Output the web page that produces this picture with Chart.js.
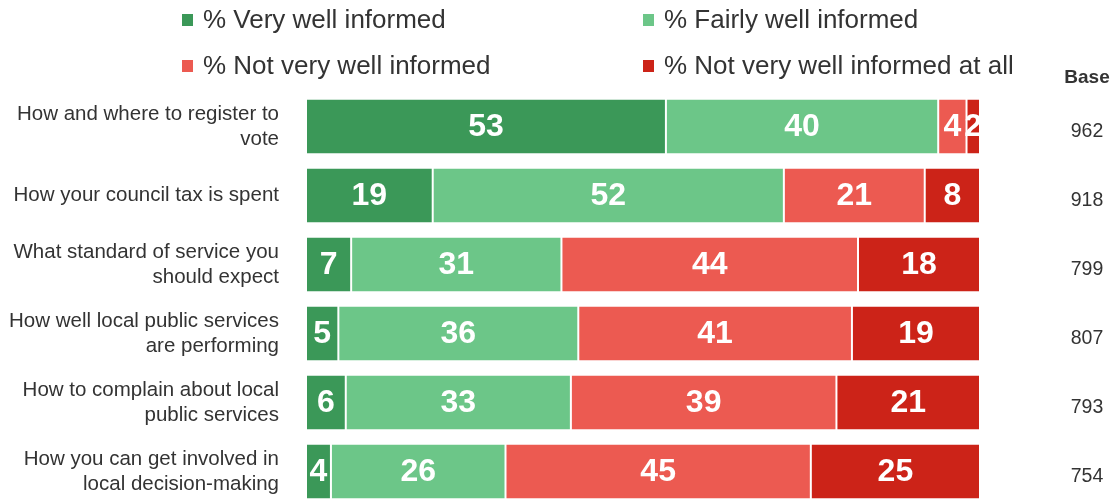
<!DOCTYPE html>
<html>
<head>
<meta charset="utf-8">
<script src="https://cdn.jsdelivr.net/npm/chart.js@4.4.1/dist/chart.umd.min.js"></script>
<style>
  html, body { margin: 0; padding: 0; background: #fff; overflow: hidden; }
  canvas { display: block; }
</style>
</head>
<body>
<canvas id="chart" width="1115" height="506"></canvas>
<script>
const categories = [
    ["How and where to register to", "vote"],
    "How your council tax is spent",
    ["What standard of service you", "should expect"],
    ["How well local public services", "are performing"],
    ["How to complain about local", "public services"],
    ["How you can get involved in", "local decision-making"]
];
const seriesNames = ["% Very well informed", "% Fairly well informed", "% Not very well informed", "% Not very well informed at all"];
const veryWell = [53.4, 18.8, 6.7, 4.8, 5.9, 3.7];
const fairlyWell = [40.4, 52.1, 31.2, 35.6, 33.4, 25.9];
const notVeryWell = [4.2, 20.9, 44.0, 40.6, 39.4, 45.3];
const notAtAll = [2.0, 8.2, 18.1, 19.0, 21.3, 25.1];
const bases = [962, 918, 799, 807, 793, 754];

const colors = ["#3b9858", "#6cc688", "#ec5a51", "#cc2318"];
const textColor = "#333333";

// value labels inside each segment
const valueLabels = {
    id: "valueLabels",
    afterDatasetsDraw(chart) {
        const ctx = chart.ctx;
        ctx.save();
        ctx.fillStyle = "#ffffff";
        ctx.font = "bold 32px 'Liberation Sans', Arial, sans-serif";
        ctx.textAlign = "center";
        ctx.textBaseline = "middle";
        chart.data.datasets.forEach((ds, i) => {
            const meta = chart.getDatasetMeta(i);
            meta.data.forEach((bar, j) => {
                const x = (bar.x + bar.base) / 2;
                ctx.fillText(String(Math.round(ds.data[j])), x, bar.y + 1);
            });
        });
        ctx.restore();
    }
};

// legend in a fixed 2 x 2 grid plus the Base column
const extras = {
    id: "extras",
    afterDraw(chart) {
        const ctx = chart.ctx;
        ctx.save();
        const cols = [182, 643];
        const rows = [21, 67];
        ctx.font = "26px 'Liberation Sans', Arial, sans-serif";
        ctx.textBaseline = "middle";
        ctx.textAlign = "left";
        chart.data.datasets.forEach((ds, i) => {
            const x = cols[i % 2];
            const y = rows[Math.floor(i / 2)];
            ctx.fillStyle = ds.backgroundColor;
            ctx.fillRect(x, y - 7, 11, 12);
            ctx.fillStyle = textColor;
            ctx.fillText(ds.label, x + 21, y);
        });

        const yScale = chart.scales.y;
        ctx.textAlign = "center";
        ctx.fillStyle = textColor;
        ctx.font = "bold 19px 'Liberation Sans', Arial, sans-serif";
        ctx.fillText("Base", 1087, 78);
        ctx.font = "19.5px 'Liberation Sans', Arial, sans-serif";
        bases.forEach((b, i) => {
            ctx.fillText(String(b), 1087, yScale.getPixelForValue(i) + 5);
        });
        ctx.restore();
    }
};

const seriesData = [veryWell, fairlyWell, notVeryWell, notAtAll];

new Chart(document.getElementById("chart"), {
    type: "bar",
    data: {
        labels: categories,
        datasets: seriesData.map((d, i) => ({
            label: seriesNames[i],
            data: d,
            backgroundColor: colors[i],
            borderColor: "#ffffff",
            borderWidth: { left: 1, right: 1, top: 0, bottom: 0 },
            borderSkipped: false,
            barPercentage: 0.784,
            categoryPercentage: 1
        }))
    },
    options: {
        indexAxis: "y",
        responsive: false,
        animation: false,
        layout: { padding: { top: 92, right: 135, bottom: 0, left: 0 } },
        scales: {
            x: {
                stacked: true,
                min: 0,
                max: 100,
                display: false
            },
            y: {
                stacked: true,
                grid: { display: false, drawTicks: false },
                border: { display: false },
                afterFit(scale) {
                    scale.width = 306;
                    scale.paddingTop = 0;
                    scale.paddingBottom = 0;
                },
                ticks: {
                    padding: 27,
                    color: textColor,
                    font: { family: "'Liberation Sans', Arial, sans-serif", size: 20.5, lineHeight: 1.22 }
                }
            }
        },
        plugins: {
            legend: { display: false },
            tooltip: { enabled: false }
        }
    },
    plugins: [valueLabels, extras]
});
</script>
</body>
</html>
